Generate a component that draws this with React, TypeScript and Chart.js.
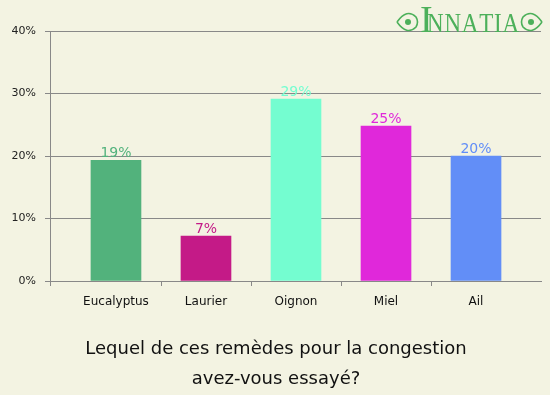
import React, { useEffect, useRef } from "react";
import { Chart, registerables } from "chart.js";

Chart.register(...registerables);

const categories = ["Eucalyptus", "Laurier", "Oignon", "Miel", "Ail"];
const values = [19.3, 7.2, 29.1, 24.8, 20.0];
const barColors = ["#52b27c", "#c41a87", "#74fdd0", "#e028da", "#628ef7"];
const yTicks = [0, 10, 20, 30, 40];
const titleLines = ["Lequel de ces remèdes pour la congestion", "avez-vous essayé?"];
const BG = "#f3f3e2";

const valueLabelPlugin = {
  id: "valueLabels",
  afterDatasetsDraw(chart: any) {
    const ctx = chart.ctx;
    const meta = chart.getDatasetMeta(0);
    ctx.save();
    ctx.font = "14px 'DejaVu Sans', Verdana, sans-serif";
    ctx.textAlign = "center";
    ctx.textBaseline = "alphabetic";
    meta.data.forEach((bar: any, i: number) => {
      ctx.fillStyle = barColors[i];
      ctx.fillText(Math.round(values[i]) + "%", bar.x, bar.y - 3);
    });
    ctx.restore();
  },
};

const tickMarksPlugin = {
  id: "betweenTicks",
  afterDraw(chart: any) {
    const ctx = chart.ctx;
    const xs = chart.scales.x;
    const bottom = chart.chartArea.bottom;
    ctx.save();
    ctx.strokeStyle = "#888888";
    ctx.lineWidth = 1;
    const pts = [chart.chartArea.left];
    for (let i = 0; i < categories.length - 1; i++) pts.push(xs.getPixelForValue(i + 0.5));
    pts.forEach((p) => {
      const x = Math.round(p) + 0.5;
      ctx.beginPath();
      ctx.moveTo(x, bottom);
      ctx.lineTo(x, bottom + 5);
      ctx.stroke();
    });
    ctx.restore();
  },
};

const titlePlugin = {
  id: "bottomTitle",
  afterDraw(chart: any) {
    const ctx = chart.ctx;
    ctx.save();
    ctx.font = "18px 'DejaVu Sans', Verdana, sans-serif";
    ctx.fillStyle = "#111111";
    ctx.textAlign = "center";
    ctx.textBaseline = "middle";
    const cx = chart.width / 2 + 1;
    const top = chart.chartArea.bottom + 68;
    titleLines.forEach((line, i) => ctx.fillText(line, cx, top + i * 30));
    ctx.restore();
  },
};

const logoPlugin = {
  id: "logo",
  afterDraw(chart: any) {
    const ctx = chart.ctx;
    ctx.save();
    const green = "#4cb05a";
    ctx.fillStyle = green;
    ctx.strokeStyle = green;
    ctx.textBaseline = "alphabetic";
    ctx.font = "38px 'Liberation Serif', serif";
    ctx.fillText("I", 420, 32);
    ctx.font = "27px 'Liberation Serif', serif";
    const letters = "NNATIA";
    const gap = 1;
    let total = 0;
    for (const ch of letters) total += ctx.measureText(ch).width + gap;
    const sx = 93 / total;
    ctx.translate(427, 32);
    ctx.scale(sx, 1);
    let x = 0;
    for (const ch of letters) {
      ctx.fillText(ch, x, 0);
      x += ctx.measureText(ch).width + gap;
    }
    ctx.setTransform(1, 0, 0, 1, 0, 0);
    const drawEye = (cx: number, dir: number) => {
      ctx.lineWidth = 1.6;
      ctx.beginPath();
      ctx.moveTo(cx - 10 * dir, 22);
      ctx.quadraticCurveTo(cx, 8, cx + 9 * dir, 17);
      ctx.quadraticCurveTo(cx + 12 * dir, 22, cx + 9 * dir, 27);
      ctx.quadraticCurveTo(cx, 36, cx - 10 * dir, 22);
      ctx.stroke();
      ctx.beginPath();
      ctx.arc(cx + 1 * dir, 22, 3, 0, Math.PI * 2);
      ctx.fill();
    };
    drawEye(407, 1);
    drawEye(532, -1);
    ctx.restore();
  },
};

export default function App() {
  const ref = useRef<HTMLCanvasElement | null>(null);
  useEffect(() => {
    document.body.style.margin = "0";
    document.body.style.background = BG;
    const canvas = ref.current!;
    const chart = new Chart(canvas, {
      type: "bar",
      data: {
        labels: categories,
        datasets: [
          {
            data: categories.map((_, i) => ({ x: i, y: values[i] })),
            backgroundColor: barColors,
            borderWidth: 0,
            barThickness: 50,
          },
        ],
      },
      options: {
        animation: false,
        responsive: false,
        maintainAspectRatio: false,
        layout: { padding: { top: 31, right: 9, left: 0, bottom: 80 } },
        plugins: {
          legend: { display: false },
          tooltip: { enabled: false },
          title: { display: false },
        },
        scales: {
          x: {
            type: "linear",
            offset: false,
            min: -0.733,
            max: 4.722,
            afterBuildTicks: (scale: any) => {
              scale.ticks = categories.map((_, i) => ({ value: i }));
            },
            afterFit: (scale: any) => {
              scale.height = 34;
            },
            grid: { display: false, drawTicks: false, offset: false },
            border: { display: true, color: "#888888" },
            ticks: {
              autoSkip: false,
              maxRotation: 0,
              padding: 14,
              color: "#111111",
              font: { family: "'DejaVu Sans', Verdana, sans-serif", size: 12 },
              callback: (v: any) => categories[Math.round(Number(v))] ?? "",
            },
          },
          y: {
            min: 0,
            max: 40,
            afterBuildTicks: (scale: any) => {
              scale.ticks = yTicks.map((v) => ({ value: v }));
            },
            afterFit: (scale: any) => {
              scale.width = 50;
            },
            grid: { color: "#888888", lineWidth: 1, tickLength: 5 },
            border: { display: true, color: "#888888" },
            ticks: {
              padding: 9,
              color: "#222222",
              font: { family: "'DejaVu Sans', Verdana, sans-serif", size: 11 },
              callback: (v: any) => v + "%",
            },
          },
        },
      },
      plugins: [valueLabelPlugin, tickMarksPlugin, titlePlugin, logoPlugin],
    } as any);
    return () => chart.destroy();
  }, []);
  return (
    <div style={{ width: 550, height: 395, background: BG }}>
      <canvas ref={ref} width={550} height={395} style={{ display: "block", width: 550, height: 395 }} />
    </div>
  );
}
